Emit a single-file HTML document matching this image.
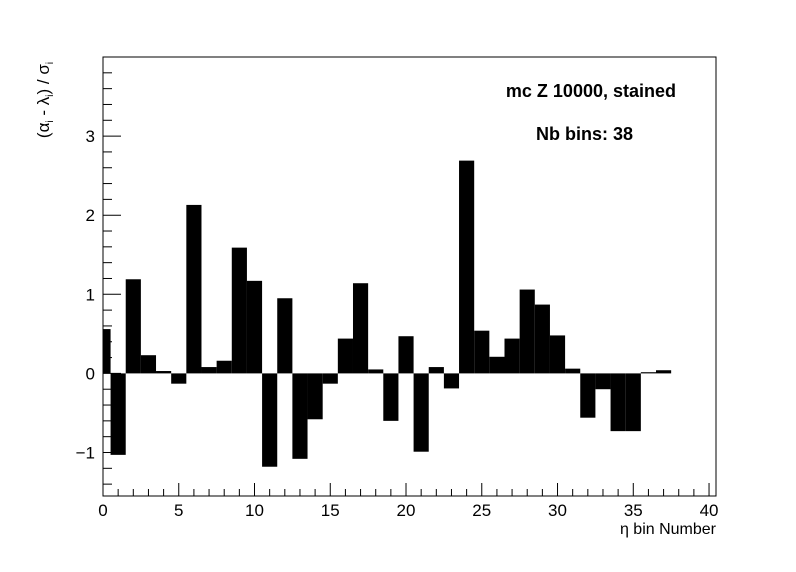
<!DOCTYPE html>
<html><head><meta charset="utf-8"><style>
html,body{margin:0;padding:0;background:#fff;}
svg{display:block;font-family:"Liberation Sans",sans-serif;}
</style></head><body>
<svg id="chart" width="796" height="572" viewBox="0 0 796 572" xmlns="http://www.w3.org/2000/svg">
<rect x="0" y="0" width="796" height="572" fill="#fff"/>
<g id="bars"></g>
<g id="axes"></g>
<text x="676" y="97" text-anchor="end" font-size="18" font-weight="bold">mc Z 10000, stained</text>
<text x="633" y="140" text-anchor="end" font-size="18" font-weight="bold">Nb bins: 38</text>
<text x="716" y="534" text-anchor="end" font-size="16">η bin Number</text>
<text transform="translate(49,100) rotate(-90)" text-anchor="middle" font-size="17">(α<tspan font-size="10" dy="4">i</tspan><tspan dy="-4"> - λ</tspan><tspan font-size="10" dy="4">i</tspan><tspan dy="-4">) / σ</tspan><tspan font-size="10" dy="4">i</tspan></text>
</svg>
<script>
const bins = [0,1,2,3,4,5,6,7,8,9,10,11,12,13,14,15,16,17,18,19,20,21,22,23,24,25,26,27,28,29,30,31,32,33,34,35,36,37];
const values = [0.56,-1.03,1.19,0.23,0.03,-0.13,2.13,0.08,0.16,1.59,1.17,-1.18,0.95,-1.08,-0.58,-0.13,0.44,1.14,0.05,-0.6,0.47,-0.99,0.08,-0.19,2.69,0.54,0.21,0.44,1.06,0.87,0.48,0.06,-0.56,-0.2,-0.73,-0.73,0.015,0.04];
const xTicks = [0,5,10,15,20,25,30,35,40];
const xTickLabels = ["0","5","10","15","20","25","30","35","40"];
const yTicks = [-1,0,1,2,3];
const yTickLabels = ["\u22121","0","1","2","3"];

const L=103,R=716,T=57,B=496;
const xMin=0,xMax=40.46,yMin=-1.55,yMax=4.0;
const X=v=>L+(v-xMin)/(xMax-xMin)*(R-L);
const Y=v=>B-(v-yMin)/(yMax-yMin)*(B-T);
const NS="http://www.w3.org/2000/svg";
const barsG=document.getElementById('bars');
const axG=document.getElementById('axes');
function mk(tag,attrs,parent){const e=document.createElementNS(NS,tag);for(const k in attrs)e.setAttribute(k,attrs[k]);parent.appendChild(e);return e;}

bins.forEach((b,i)=>{
  const x0=Math.max(X(b-0.5),L), x1=Math.min(X(b+0.5),R);
  const v=values[i];
  const y0=Y(Math.max(v,0)), y1=Y(Math.min(v,0));
  const r=mk('rect',{x:x0,y:y0,width:x1-x0,height:Math.max(y1-y0,0.8),fill:'#000'},barsG);
  
  
});

const fr=mk('rect',{x:L,y:T,width:R-L,height:B-T,fill:'none',stroke:'#000','stroke-width':1},axG);



for(let v=0;v<=40;v+=1){
  const major=v%5===0; const len=major?13:7;
  const t=mk('line',{x1:X(v),x2:X(v),y1:B,y2:B-len,stroke:'#000','stroke-width':1},axG);
  
  
}
xTicks.forEach((v,i)=>{
  const t=mk('text',{x:X(v),y:B+20,'text-anchor':'middle','font-size':17},axG);
  t.textContent=xTickLabels[i];
  
  
});
for(let k=-7;k<=19;k++){
  const v=k*0.2; if(v<yMin||v>yMax) continue;
  const major=k%5===0; const len=major?18:9;
  const t=mk('line',{x1:L,x2:L+len,y1:Y(v),y2:Y(v),stroke:'#000','stroke-width':1},axG);
  
  
}
yTicks.forEach((v,i)=>{
  const t=mk('text',{x:L-8,y:Y(v)+6,'text-anchor':'end','font-size':17},axG);
  t.textContent=yTickLabels[i];
  
  
});
</script>
</body></html>
